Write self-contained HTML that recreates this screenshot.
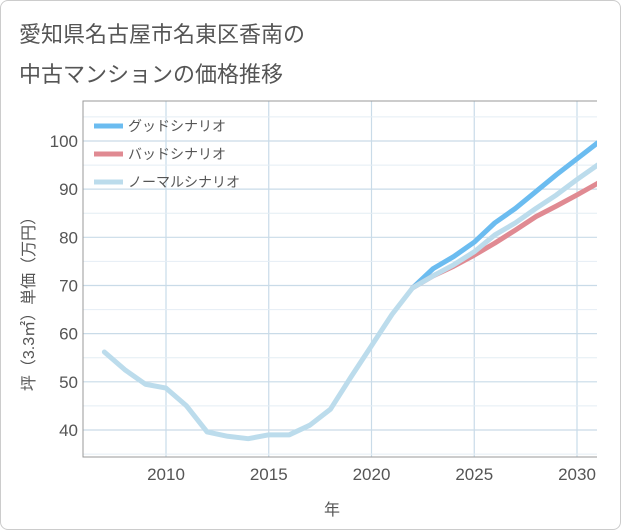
<!DOCTYPE html>
<html><head><meta charset="utf-8">
<style>
body{margin:0;background:#fff;}
.card{position:absolute;left:0;top:0;width:619px;height:528px;border:1px solid #ccc;border-radius:8px;background:#fff;}
.t{position:absolute;left:18px;font:22px "Liberation Sans","Noto Sans CJK JP",sans-serif;color:#555;font-weight:normal;}
svg text{font-family:"Liberation Sans","Noto Sans CJK JP",sans-serif;}
</style></head><body>
<div class="card">
<div class="t" style="top:16px">愛知県名古屋市名東区香南の</div>
<div class="t" style="top:56px">中古マンションの価格推移</div>
</div>
<svg id="c" width="621" height="530" style="position:absolute;left:0;top:0"></svg>
<script>
const years=[2007,2008,2009,2010,2011,2012,2013,2014,2015,2016,2017,2018,2019,2020,2021,2022,2023,2024,2025,2026,2027,2028,2029,2030,2031];
const normalVals=[56.2,52.5,49.5,48.7,45,39.6,38.7,38.2,39,39,41,44.3,51,57.5,64,69.5,72,74.3,77,80.5,83,86,88.8,92,95];
const goodYears=[2022,2023,2024,2025,2026,2027,2028,2029,2030,2031];
const goodVals=[69.5,73.5,76,79,83,86,89.5,93,96.3,99.6];
const badVals=[69.5,72,74,76.3,78.8,81.5,84.3,86.5,88.8,91.2];
const xTicks=[2010,2015,2020,2025,2030];
const yTicks=[40,50,60,70,80,90,100];
const NS='http://www.w3.org/2000/svg';
const svg=document.getElementById('c');
const L=83,R=597,T=101,B=457;
const x=v=>166+(v-2010)*20.55;
const y=v=>430-(v-40)*4.817;
function mk(tag,attrs,parent){const e=document.createElementNS(NS,tag);for(const k in attrs)e.setAttribute(k,attrs[k]);(parent||svg).appendChild(e);return e;}
const grid=mk('g',{});


for(let yr=2007;yr<=2031;yr++){if(yr%5===0){mk('line',{x1:x(yr),x2:x(yr),y1:T,y2:B,stroke:'#c9dbe8','stroke-width':1.2},grid);}}
for(let v=35;v<=105;v+=10){mk('line',{x1:L,x2:R,y1:y(v),y2:y(v),stroke:'#e4edf4','stroke-width':1},grid);}
yTicks.forEach(v=>mk('line',{x1:L,x2:R,y1:y(v),y2:y(v),stroke:'#c9dbe8','stroke-width':1.2},grid));
const frame=mk('path',{d:`M${R} ${T}H${L}V${B}H${R}`,fill:'none',stroke:'#999','stroke-width':1});


yTicks.forEach(v=>{const t=mk('text',{x:78,y:y(v)+6,'text-anchor':'end','font-size':17,fill:'#555'});t.textContent=v;

});
xTicks.forEach(v=>{const t=mk('text',{x:x(v),y:480,'text-anchor':'middle','font-size':17,fill:'#555'});t.textContent=v;

});
const xt=mk('text',{x:332,y:515,'text-anchor':'middle','font-size':16,fill:'#555'});xt.textContent='年';


const yt=mk('text',{x:0,y:0,'text-anchor':'middle','font-size':16,fill:'#555',transform:'translate(34,300) rotate(-90)'});yt.textContent='坪（3.3㎡）単価（万円）';


function line(xs,vs,col,name){const p=mk('polyline',{points:xs.map((yr,i)=>x(yr)+','+y(vs[i])).join(' '),fill:'none',stroke:col,'stroke-width':5,'stroke-linejoin':'round','stroke-linecap':'round'});

}
const clip=mk('clipPath',{id:'cp'});mk('rect',{x:L,y:T,width:R-L,height:B-T},clip);
line(goodYears,goodVals,'#6bbcf0','good-scenario-line');
line(goodYears,badVals,'#e08a92','bad-scenario-line');
line(years,normalVals,'#bcdcec','normal-scenario-line');
svg.querySelectorAll('polyline').forEach(p=>p.setAttribute('clip-path','url(#cp)'));
const leg=[['グッドシナリオ','#6bbcf0'],['バッドシナリオ','#e08a92'],['ノーマルシナリオ','#bcdcec']];
leg.forEach((l,i)=>{const g=mk('g',{});


const yy=126+i*28;mk('line',{x1:94,x2:123,y1:yy,y2:yy,stroke:l[1],'stroke-width':5},g);
const t=mk('text',{x:128,y:yy+5,'font-size':14,fill:'#555'},g);t.textContent=l[0];});
</script>
</body></html>
